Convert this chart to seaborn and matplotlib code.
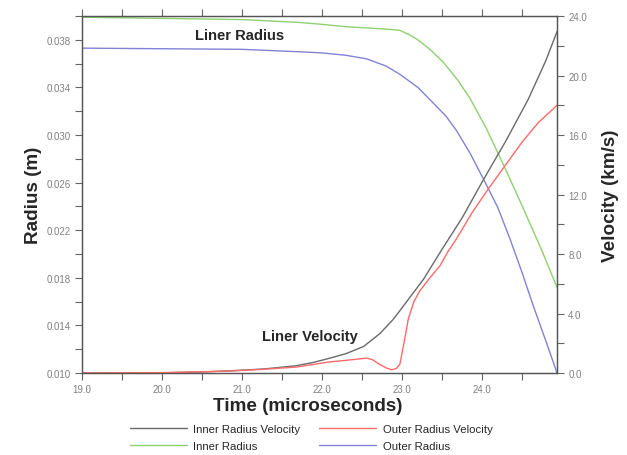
import matplotlib
matplotlib.use("Agg")
import matplotlib.pyplot as plt
import seaborn as sns
from matplotlib.ticker import MultipleLocator, FixedLocator, FormatStrFormatter

# time (microseconds) and values
t_inner_r = [19.0, 20.0, 21.0, 21.7, 22.0, 22.3, 22.56, 22.8, 22.975, 23.1, 23.2, 23.35,
             23.52, 23.7, 23.85, 24.06, 24.27, 24.5, 24.75, 24.94]
inner_radius = [0.0399, 0.0398, 0.0397, 0.03947, 0.0393, 0.0391, 0.0390, 0.0389, 0.0388,
                0.0384, 0.0380, 0.0372, 0.0361, 0.0346, 0.0331, 0.0305, 0.0275, 0.0241,
                0.0203, 0.0172]

t_outer_r = [19.0, 20.0, 21.0, 21.7, 22.0, 22.3, 22.56, 22.8, 22.975, 23.2, 23.39, 23.55,
             23.68, 23.85, 24.02, 24.2, 24.35, 24.5, 24.64, 24.8, 24.94]
outer_radius = [0.0373, 0.03725, 0.0372, 0.0370, 0.0369, 0.0367, 0.0364, 0.0358, 0.0351,
                0.0340, 0.0327, 0.0316, 0.0304, 0.0285, 0.0263, 0.0239, 0.0213, 0.0185,
                0.0157, 0.0127, 0.0100]

t_inner_v = [19.0, 20.0, 20.5, 20.85, 21.27, 21.68, 21.9, 22.1, 22.3, 22.52, 22.725, 22.89,
             22.975, 23.27, 23.5, 23.75, 24.02, 24.3, 24.58, 24.8, 24.94]
inner_velocity = [0.0, 0.02, 0.07, 0.15, 0.27, 0.49, 0.72, 1.0, 1.3, 1.78, 2.65, 3.6,
                  4.19, 6.3, 8.3, 10.4, 13.0, 15.6, 18.4, 21.0, 22.95]

t_outer_v = [19.0, 20.0, 20.85, 21.27, 21.68, 22.1, 22.3, 22.56, 22.63, 22.7, 22.8, 22.87,
             22.93, 22.975, 23.02, 23.08, 23.15, 23.225, 23.35, 23.475, 23.58, 23.68, 23.88,
             24.08, 24.29, 24.5, 24.7, 24.94]
outer_velocity = [0.0, 0.02, 0.13, 0.25, 0.4, 0.75, 0.85, 1.0, 0.9, 0.65, 0.35, 0.22,
                  0.3, 0.6, 1.84, 3.63, 4.8, 5.53, 6.4, 7.2, 8.2, 9.0, 10.8,
                  12.37, 13.94, 15.5, 16.8, 18.0]

sns.set_style("ticks")
plt.rcParams['font.family'] = ['Liberation Sans', 'DejaVu Sans']

fig = plt.figure(figsize=(6.27, 4.56), dpi=100)
ax = fig.add_axes([0.1308, 0.1798, 0.7576, 0.7829])
ax2 = ax.twinx()

green = '#8fd070'
blue = '#8282d8'
red = '#ff6a6a'
gray = '#6a6a6a'

sns.lineplot(x=t_inner_v, y=inner_velocity, ax=ax2, color=gray, lw=1, legend=False)
sns.lineplot(x=t_outer_v, y=outer_velocity, ax=ax2, color=red, lw=1, legend=False)
sns.lineplot(x=t_inner_r, y=inner_radius, ax=ax, color=green, lw=1, legend=False)
sns.lineplot(x=t_outer_r, y=outer_radius, ax=ax, color=blue, lw=1, legend=False)

ax.set_xlim(19.0, 24.94)
ax.set_ylim(0.010, 0.040)
ax2.set_ylim(0, 24)

ax.xaxis.set_major_locator(MultipleLocator(1.0))
ax.xaxis.set_minor_locator(MultipleLocator(0.5))
ax.xaxis.set_major_formatter(FormatStrFormatter('%.1f'))
ax.yaxis.set_major_locator(FixedLocator([0.010, 0.014, 0.018, 0.022, 0.026, 0.030, 0.034, 0.038]))
ax.yaxis.set_minor_locator(FixedLocator([0.012, 0.016, 0.020, 0.024, 0.028, 0.032, 0.036, 0.040]))
ax.yaxis.set_major_formatter(FormatStrFormatter('%.3f'))
ax2.yaxis.set_major_locator(MultipleLocator(4.0))
ax2.yaxis.set_minor_locator(MultipleLocator(2.0))
ax2.yaxis.set_major_formatter(FormatStrFormatter('%.1f'))

for a in (ax, ax2):
    for s in a.spines.values():
        s.set_color('#555555')
        s.set_linewidth(0.9)
    a.tick_params(which='both', direction='out', length=5, width=0.8, color='#666666',
                  labelsize=7, labelcolor='#808080', pad=3)
ax.tick_params(which='both', top=True, right=False)
ax2.tick_params(which='both', left=False)

ax.set_xlabel('Time (microseconds)', fontsize=13.6, fontweight='bold')
ax.set_ylabel('Radius (m)', fontsize=13.6, fontweight='bold')
ax2.set_ylabel('Velocity (km/s)', fontsize=13.6, fontweight='bold')
ax.xaxis.set_label_coords(0.476, -0.066)
ax.yaxis.set_label_coords(-0.084, 0.5)
ax2.yaxis.set_label_coords(1.095, 0.5)

ax.text(20.975, 0.0384, 'Liner Radius', fontsize=10.6, fontweight='bold', ha='center', va='center')
ax2.text(21.85, 2.5, 'Liner Velocity', fontsize=10.6, fontweight='bold', ha='center', va='center')

lines = ax2.lines[:2] + ax.lines[:2]
handles = [lines[0], lines[2], lines[1], lines[3]]
labels = ['Inner Radius Velocity', 'Inner Radius', 'Outer Radius Velocity', 'Outer Radius']
fig.legend(handles, labels, loc='center', bbox_to_anchor=(0.496, 0.0385), ncol=2,
           frameon=False, fontsize=8.2, handlelength=5, columnspacing=1.6,
           labelspacing=0.55, handletextpad=0.6)

fig.savefig('out.png', dpi=100)
